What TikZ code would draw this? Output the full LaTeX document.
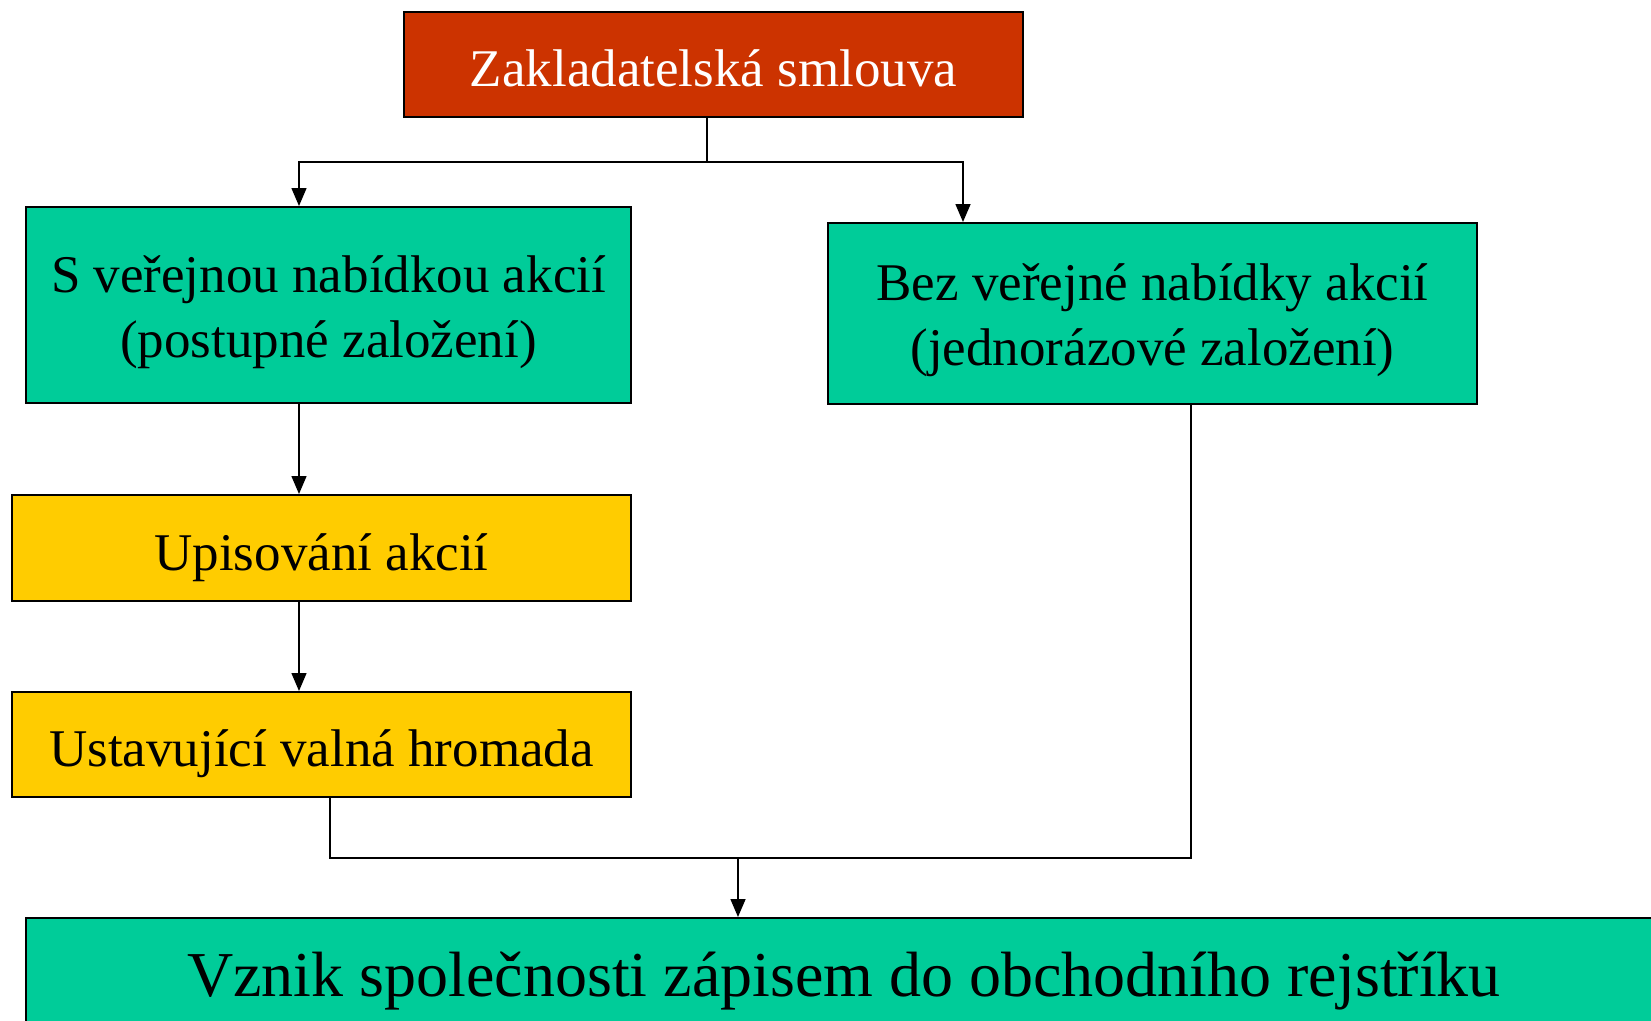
\documentclass[tikz,border=0pt]{standalone}
\usepackage{fontspec}
\setmainfont{Liberation Serif}
\usetikzlibrary{arrows.meta}
\definecolor{redbox}{HTML}{CC3300}
\definecolor{greenbox}{HTML}{00CC99}
\definecolor{yellowbox}{HTML}{FFCC00}
\begin{document}
\begin{tikzpicture}[x=1pt,y=-1pt,
  box/.style={draw=black, line width=2pt, inner sep=0pt, align=center,
    font=\fontsize{53}{65}\selectfont},
  oneline/.style={text height=52pt, text depth=8pt},
  twoline/.style={text height=78pt, text depth=52pt},
  conn/.style={draw=black, line width=1.5pt},
  arr/.style={conn, -{Triangle[width=15pt,length=18pt]}}]
\path[use as bounding box, clip] (0,0) rectangle (1651,1020);

\node[box, oneline, fill=redbox, text=white, minimum width=619pt, minimum height=105pt] (zs) at (713.5,64.5) {Zakladatelská smlouva};
\node[box, twoline, fill=greenbox, minimum width=605pt, minimum height=196pt] (pub) at (328.5,305)
  {\begin{tabular}{@{}c@{}}S veřejnou nabídkou akcií\\(postupné založení)\end{tabular}};
\node[box, twoline, fill=greenbox, minimum width=649pt, minimum height=181pt] (nopub) at (1152.5,313.5)
  {\begin{tabular}{@{}c@{}}Bez veřejné nabídky akcií\\(jednorázové založení)\end{tabular}};
\node[box, oneline, fill=yellowbox, minimum width=619pt, minimum height=106pt] (up) at (321.5,548) {Upisování akcií};
\node[box, oneline, fill=yellowbox, minimum width=619pt, minimum height=105pt] (ust) at (321.5,744.5) {Ustavující valná hromada};
\node[box, fill=greenbox, font=\fontsize{64}{77}\selectfont, text height=59pt, text depth=12pt,
  minimum width=1636pt, minimum height=110pt] (final) at (844,973) {Vznik společnosti zápisem do obchodního rejstříku};

\coordinate (xa) at (299,0);
\coordinate (xb) at (963,0);
\coordinate (xc) at (330,0);
\coordinate (xd) at (1191,0);
\coordinate (j1) at (707,162);
\coordinate (j2) at (738,858);

\draw[conn] (zs.south -| j1) -- (j1);
\draw[arr] (j1) -| (pub.north -| xa);
\draw[arr] (j1) -| (nopub.north -| xb);
\draw[arr] (pub.south -| xa) -- (up.north -| xa);
\draw[arr] (up.south -| xa) -- (ust.north -| xa);
\draw[conn] (ust.south -| xc) |- (j2);
\draw[conn] (nopub.south -| xd) |- (j2);
\draw[arr] (j2) -- (final.north -| j2);
\end{tikzpicture}
\end{document}
